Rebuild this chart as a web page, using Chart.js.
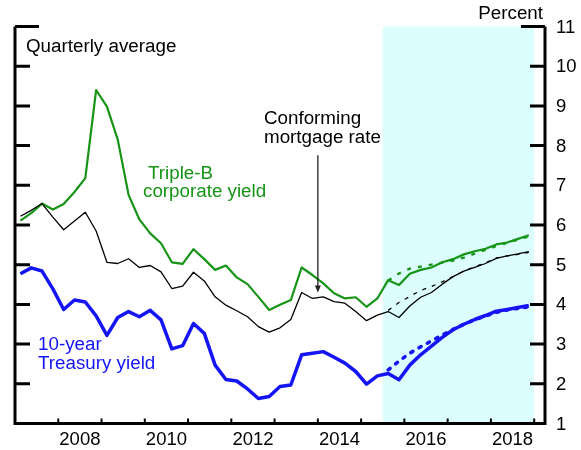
<!DOCTYPE html>
<html><head><meta charset="utf-8">
<script src="https://cdn.jsdelivr.net/npm/chart.js@4"></script>
<style>html,body{margin:0;padding:0;background:#fff}#wrap{width:581px;height:450px}</style>
</head><body><div id="wrap"><canvas id="c" width="581" height="450"></canvas></div>
<script>
const quarters = [
 '2007Q1','2007Q2','2007Q3','2007Q4','2008Q1','2008Q2','2008Q3','2008Q4',
 '2009Q1','2009Q2','2009Q3','2009Q4','2010Q1','2010Q2','2010Q3','2010Q4',
 '2011Q1','2011Q2','2011Q3','2011Q4','2012Q1','2012Q2','2012Q3','2012Q4',
 '2013Q1','2013Q2','2013Q3','2013Q4','2014Q1','2014Q2','2014Q3','2014Q4',
 '2015Q1','2015Q2','2015Q3','2015Q4','2016Q1','2016Q2','2016Q3','2016Q4',
 '2017Q1','2017Q2','2017Q3','2017Q4','2018Q1','2018Q2','2018Q3','2018Q4'];
const tripleB = [
 6.11,6.30,6.54,6.39, 6.53,6.83,7.18,9.40,
 8.98,8.15,6.76,6.14, 5.79,5.54,5.06,5.02,
 5.39,5.14,4.87,4.98, 4.68,4.51,4.19,3.86,
 3.99,4.11,4.93,4.74, 4.53,4.28,4.15,4.18,
 3.94,4.15,4.61,4.49, 4.77,4.87,4.93,5.06,
 5.14,5.26,5.34,5.40, 5.51,5.56,5.65,5.74];
const mortgage = [
 6.22,6.37,6.54,6.20, 5.88,6.10,6.32,5.85,
 5.06,5.03,5.15,4.93, 4.98,4.82,4.40,4.46,
 4.81,4.59,4.19,3.98, 3.84,3.69,3.44,3.30,
 3.41,3.62,4.30,4.15, 4.19,4.07,4.03,3.82,
 3.59,3.73,3.82,3.67, 3.96,4.18,4.30,4.51,
 4.70,4.84,4.93,5.03, 5.16,5.22,5.27,5.33];
const treasury = [
 4.77,4.92,4.84,4.39, 3.87,4.11,4.06,3.71,
 3.22,3.67,3.82,3.69, 3.85,3.61,2.88,2.96,
 3.52,3.27,2.47,2.11, 2.07,1.87,1.63,1.68,
 1.93,1.97,2.73,2.77, 2.81,2.67,2.52,2.31,
 1.99,2.20,2.26,2.10, 2.47,2.73,2.95,3.17,
 3.36,3.50,3.62,3.72, 3.83,3.87,3.92,3.97];
const prevQuarters = ['2015Q3','2015Q4','2016Q1','2016Q2','2016Q3','2016Q4',
 '2017Q1','2017Q2','2017Q3','2017Q4','2018Q1','2018Q2','2018Q3','2018Q4'];
const tripleBPrev  = [4.60,4.78,4.90,4.95,5.00,5.05,5.10,5.18,5.28,5.37,5.47,5.55,5.63,5.71];
const mortgagePrev = [3.85,4.05,4.20,4.35,4.45,4.57,4.70,4.84,4.95,5.05,5.17,5.22,5.26,5.31];
const treasuryPrev = [2.35,2.57,2.77,2.93,3.08,3.23,3.37,3.50,3.61,3.71,3.80,3.86,3.90,3.94];
const yTicks = [1,2,3,4,5,6,7,8,9,10,11];
const yearTicks = [2008,2009,2010,2011,2012,2013,2014,2015,2016,2017,2018,2019];
const yearLabels = ['2008','2010','2012','2014','2016','2018'];
const forecastStart = 2015.5, forecastEnd = 2019;

const GREEN = '#169416', BLUE = '#1414f5', BLACK = '#000000';
const FONT = '"Liberation Sans", Arial, sans-serif';

function qx(q){ const yr = +q.slice(0,4), n = +q.slice(5); return yr + (n - 0.5) / 4; }
function pts(qs, vals){ return qs.map((q,i) => ({x: qx(q), y: vals[i]})); }

const deco = {
  id: 'deco',
  beforeDatasetsDraw(chart){
    const {ctx, scales:{x, y}} = chart;
    ctx.save();
    ctx.fillStyle = '#dcfefe';
    const x0 = x.getPixelForValue(forecastStart), x1 = x.getPixelForValue(forecastEnd);
    const yt = y.getPixelForValue(11), yb = y.getPixelForValue(1);
    ctx.fillRect(x0, yt, x1 - x0, yb - yt);
    ctx.restore();
  },
  afterDatasetsDraw(chart){
    const {ctx, chartArea:a, scales:{x, y}} = chart;
    ctx.save();
    ctx.strokeStyle = '#000'; ctx.lineWidth = 3; ctx.lineCap = 'butt';
    // axes
    ctx.beginPath();
    ctx.moveTo(a.left, a.top); ctx.lineTo(a.left, a.bottom);
    ctx.moveTo(a.right, a.top); ctx.lineTo(a.right, a.bottom);
    ctx.moveTo(a.left - 1.5, a.bottom); ctx.lineTo(a.right + 1.5, a.bottom);
    ctx.stroke();
    // y ticks
    ctx.beginPath();
    yTicks.forEach(v => {
      if (v === 1) return;
      const py = y.getPixelForValue(v);
      const len = v === 11 ? 24 : 15;
      ctx.moveTo(a.left, py); ctx.lineTo(a.left + len, py);
      ctx.moveTo(a.right, py); ctx.lineTo(a.right - len, py);
    });
    ctx.stroke();
    // x ticks
    ctx.lineWidth = 2;
    ctx.beginPath();
    yearTicks.forEach(t => {
      const px = x.getPixelForValue(t);
      ctx.moveTo(px, a.bottom); ctx.lineTo(px, a.bottom - 5);
    });
    ctx.stroke();
    // y labels
    ctx.fillStyle = '#000';
    ctx.font = '18.5px ' + FONT;
    ctx.textAlign = 'left'; ctx.textBaseline = 'middle';
    yTicks.forEach(v => ctx.fillText(String(v), a.right + 11, y.getPixelForValue(v) + 1));
    // x labels
    ctx.textAlign = 'center'; ctx.textBaseline = 'top';
    yearLabels.forEach(l => ctx.fillText(l, x.getPixelForValue(+l + 0.5), a.bottom + 7));
    // titles
    ctx.font = '18.8px ' + FONT;
    ctx.textBaseline = 'alphabetic';
    ctx.textAlign = 'right';
    ctx.fillText('Percent', a.right - 2, 19);
    ctx.textAlign = 'left';
    ctx.fillText('Quarterly average', 26, 52);
    ctx.fillText('Conforming', 264, 124);
    ctx.fillText('mortgage rate', 264, 143);
    ctx.fillStyle = GREEN;
    ctx.fillText('Triple-B', 148, 179);
    ctx.fillText('corporate yield', 143, 197);
    ctx.fillStyle = BLUE;
    ctx.fillText('10-year', 38, 350);
    ctx.fillText('Treasury yield', 38, 369);
    // arrow
    const ax = x.getPixelForValue(2014.0), ay0 = y.getPixelForValue(7.76), ay1 = y.getPixelForValue(4.30);
    ctx.strokeStyle = '#222'; ctx.fillStyle = '#222'; ctx.lineWidth = 1.3;
    ctx.beginPath(); ctx.moveTo(ax, ay0); ctx.lineTo(ax, ay1 - 4); ctx.stroke();
    ctx.beginPath(); ctx.moveTo(ax, ay1); ctx.lineTo(ax - 3, ay1 - 7); ctx.lineTo(ax + 3, ay1 - 7); ctx.closePath(); ctx.fill();
    ctx.restore();
  }
};

new Chart(document.getElementById('c'), {
  type: 'line',
  data: {
    datasets: [
      {data: pts(prevQuarters, treasuryPrev), borderColor: BLUE, borderWidth: 3.5, borderDash: [2.5, 7], borderCapStyle: 'round'},
      {data: pts(prevQuarters, mortgagePrev), borderColor: BLACK, borderWidth: 1.3, borderDash: [4, 6]},
      {data: pts(prevQuarters, tripleBPrev), borderColor: GREEN, borderWidth: 2.3, borderDash: [4, 7]},
      {data: pts(quarters, treasury), borderColor: BLUE, borderWidth: 3.5},
      {data: pts(quarters, mortgage), borderColor: BLACK, borderWidth: 1.3},
      {data: pts(quarters, tripleB), borderColor: GREEN, borderWidth: 2.2}
    ]
  },
  options: {
    responsive: false, animation: false,
    layout: {padding: {left: 15, right: 36, top: 26.5, bottom: 26.5}},
    elements: {point: {radius: 0, hoverRadius: 0}, line: {tension: 0, fill: false, borderJoinStyle: 'round'}},
    plugins: {legend: {display: false}, tooltip: {enabled: false}},
    events: [],
    scales: {
      x: {type: 'linear', min: 2007.0, max: 2019.25, display: false},
      y: {type: 'linear', min: 1, max: 11, display: false}
    }
  },
  plugins: [deco]
});
</script></body></html>
